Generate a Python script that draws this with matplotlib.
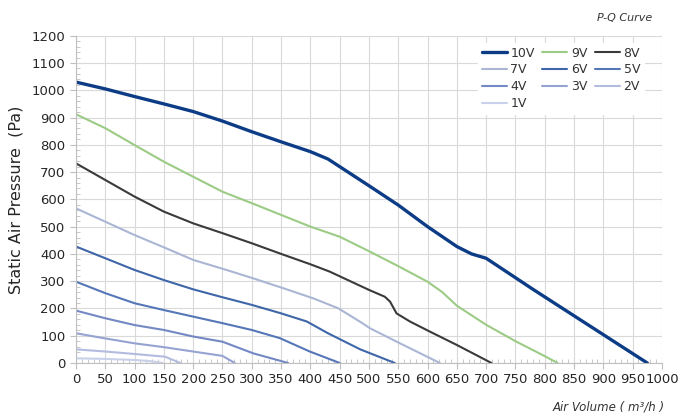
import matplotlib
matplotlib.use("Agg")
import matplotlib.pyplot as plt
from matplotlib.ticker import MultipleLocator

# P-Q curves, one list per control voltage
q_10v = [0, 50, 100, 150, 200, 250, 300, 350, 400, 430, 450, 500, 550, 600, 650, 675, 700, 780, 975]
p_10v = [1030, 1005, 977, 950, 922, 887, 848, 811, 775, 748, 720, 650, 579, 500, 427, 400, 384, 270, 0]

q_9v = [0, 50, 100, 150, 200, 250, 300, 350, 400, 450, 500, 550, 600, 625, 650, 700, 750, 800, 822]
p_9v = [912, 861, 799, 738, 683, 628, 586, 543, 500, 463, 410, 355, 298, 260, 210, 140, 80, 25, 0]

q_8v = [0, 50, 100, 150, 200, 250, 300, 350, 400, 433, 500, 527, 536, 547, 570, 604, 650, 709]
p_8v = [732, 671, 610, 555, 512, 476, 439, 400, 362, 335, 268, 243, 225, 182, 152, 115, 66, 0]

q_7v = [0, 50, 100, 150, 200, 257, 303, 354, 405, 433, 448, 485, 502, 553, 621]
p_7v = [567, 518, 469, 424, 378, 341, 310, 274, 237, 213, 200, 151, 127, 72, 0]

q_6v = [0, 50, 100, 150, 200, 250, 300, 350, 394, 430, 485, 544]
p_6v = [427, 384, 341, 304, 270, 241, 213, 182, 152, 109, 50, 0]

q_5v = [0, 50, 100, 150, 200, 250, 300, 348, 399, 450]
p_5v = [298, 256, 219, 194, 170, 146, 121, 91, 42, 0]

q_4v = [0, 50, 100, 150, 200, 250, 303, 362]
p_4v = [192, 164, 139, 121, 97, 78, 35, 0]

q_3v = [0, 50, 100, 150, 200, 250, 271]
p_3v = [109, 90, 72, 58, 42, 26, 0]

q_2v = [0, 50, 100, 152, 178]
p_2v = [50, 42, 33, 23, 0]

q_1v = [0, 50, 100, 130, 148]
p_1v = [17, 15, 11, 6, 0]

labels = ["10V", "9V", "8V", "7V", "6V", "5V", "4V", "3V", "2V", "1V"]
curves = [(q_10v, p_10v), (q_9v, p_9v), (q_8v, p_8v), (q_7v, p_7v), (q_6v, p_6v),
          (q_5v, p_5v), (q_4v, p_4v), (q_3v, p_3v), (q_2v, p_2v), (q_1v, p_1v)]
colors = ["#0d3c86", "#9ccb86", "#3a3a3a", "#aab6d4", "#3f66a8",
          "#5577b8", "#7388c4", "#95a3d2", "#b3bcdf", "#c9d0e9"]
widths = [2.4, 1.5, 1.5, 1.5, 1.5, 1.5, 1.5, 1.5, 1.5, 1.5]

fig = plt.figure(figsize=(7, 4.19), dpi=100)
ax = fig.add_axes([0.1086, 0.1337, 0.837, 0.781])

handles = []
for (q, p), lab, c, w in zip(curves, labels, colors, widths):
    h, = ax.plot(q, p, color=c, lw=w, label=lab, solid_capstyle="round")
    handles.append(h)

ax.set_xlim(0, 1000)
ax.set_ylim(0, 1200)
ax.xaxis.set_major_locator(MultipleLocator(50))
ax.yaxis.set_major_locator(MultipleLocator(100))
ax.xaxis.set_minor_locator(MultipleLocator(10))
ax.yaxis.set_minor_locator(MultipleLocator(20))
ax.grid(True, which="major", color="#d9d9d9", lw=0.8)
ax.set_axisbelow(True)

for s in ["top", "right"]:
    ax.spines[s].set_visible(False)
for s in ["left", "bottom"]:
    ax.spines[s].set_color("#bfbfbf")
ax.tick_params(which="both", colors="#bfbfbf", labelcolor="#262626", labelsize=9.5)
ax.tick_params(which="major", length=4, direction="out")
ax.tick_params(which="minor", length=3, direction="in")

ax.set_ylabel("Static Air Pressure  (Pa)", fontsize=11.5, color="#262626", labelpad=6)
ax.text(1.005, -0.115, "Air Volume ( m³/h )", transform=ax.transAxes, ha="right", va="top",
        fontsize=8.5, style="italic", color="#333333")
fig.text(0.932, 0.958, "P-Q Curve", ha="right", va="center", fontsize=8,
         style="italic", color="#333333")

# legend fills row by row in the reference, matplotlib fills by column
order = [0, 3, 6, 9, 1, 4, 7, 2, 5, 8]
leg = ax.legend([handles[i] for i in order], [labels[i] for i in order],
                ncol=3, loc="upper left", bbox_to_anchor=(0.675, 0.997), frameon=True,
                fontsize=9, handlelength=2.0, columnspacing=0.6, labelspacing=0.3,
                borderpad=0.3, handletextpad=0.3)
leg.get_frame().set_edgecolor("white")
leg.get_frame().set_facecolor("white")
leg.get_frame().set_alpha(1)
for t in leg.get_texts():
    t.set_color("#333333")

fig.savefig("out.png", dpi=100)
